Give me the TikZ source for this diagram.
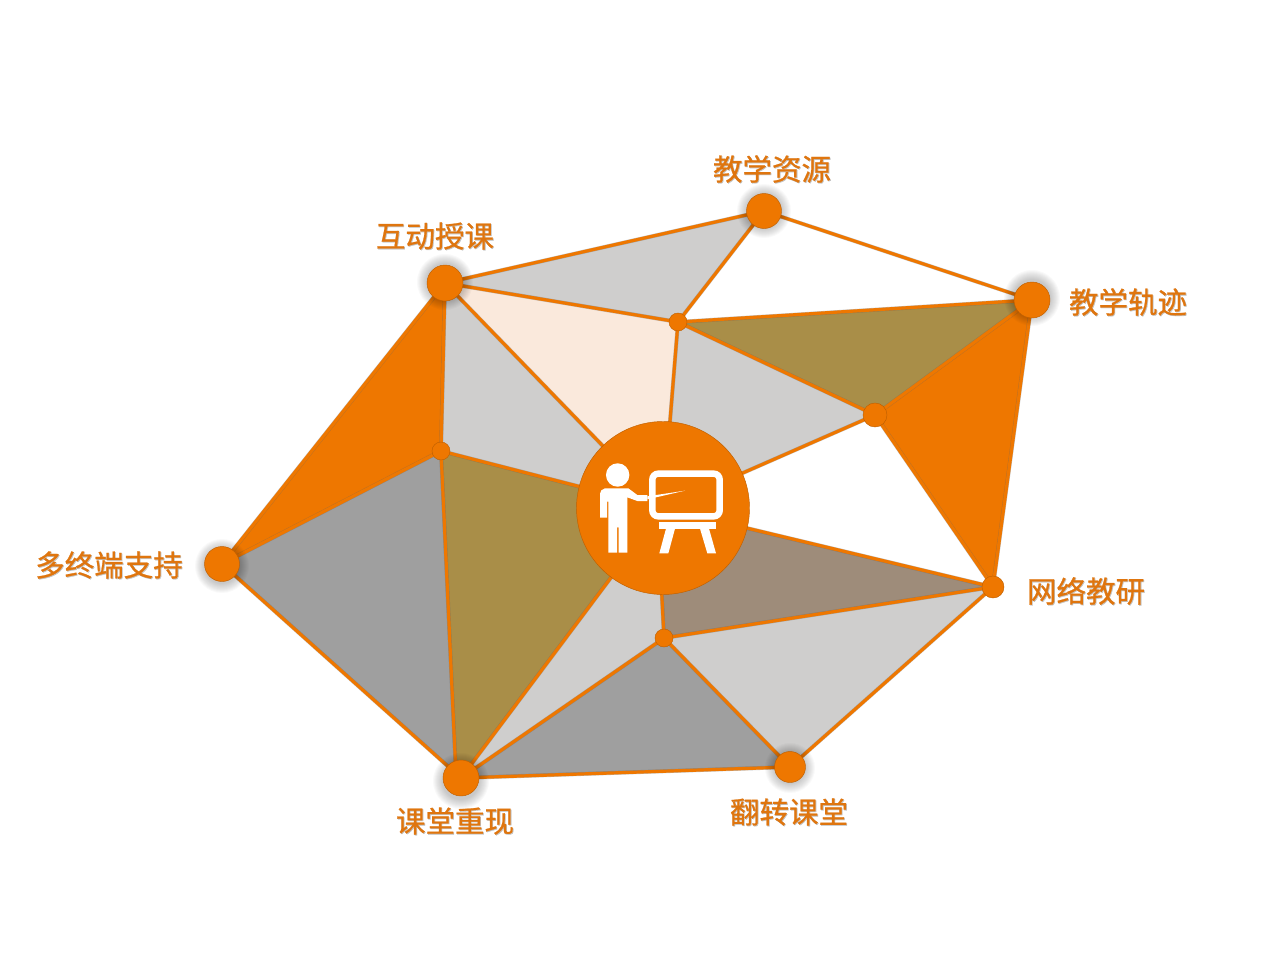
\documentclass[tikz,border=0pt]{standalone}
\usepackage{fontspec}
\newfontfamily\cjk[FakeBold=0.8]{Noto Sans CJK SC}
\definecolor{org}{HTML}{EE7700}
\definecolor{lab}{HTML}{DF750E}
\definecolor{lgrey}{HTML}{CFCECD}
\definecolor{dgrey}{HTML}{9F9F9F}
\definecolor{olive}{HTML}{A98E48}
\definecolor{peach}{HTML}{FAE9DC}
\definecolor{brownish}{HTML}{9E8C7A}
\tikzset{
  hub/.style={circle,fill=org,draw=black!20!org,line width=.45pt,inner sep=0pt,minimum size=#1},
  edgeline/.style={draw=org,line width=3.2pt,line join=round},
  edgeunder/.style={draw=black!60,line width=4pt,opacity=.4,line join=round},
  lbl/.style={font=\cjk\fontsize{29.5}{31}\selectfont,text=lab,inner sep=0pt},
  lblsh/.style={font=\cjk\fontsize{29.5}{31}\selectfont,text=black!45,opacity=.45,inner sep=0pt},
  icon/.style={fill=white,draw=none}
}
\newcommand{\softshade}[3]{%
  \foreach \k in {1,...,10}{\fill[black,opacity=.024] (#1,#2) circle[radius=#3+11-\k];}}
\newcommand{\lab}[3]{%
  \node[lblsh] at (#1+.8,#2+.8) {#3};
  \node[lbl] at (#1,#2) {#3};}
\begin{document}
\begin{tikzpicture}[x=1pt,y=-1pt]
\useasboundingbox (0,0) rectangle (1269,958);
\coordinate (A) at (445,283);
\coordinate (B) at (764,211);
\coordinate (C) at (1032,300);
\coordinate (D) at (993,587);
\coordinate (E) at (790,767);
\coordinate (F) at (461,778);
\coordinate (Fc) at (456,775);
\coordinate (G) at (222,564);
\coordinate (a) at (678,322);
\coordinate (b) at (875,415);
\coordinate (c) at (441,451);
\coordinate (d) at (664,638);
\coordinate (O) at (663,508);
\coordinate (Od) at (659,540);
% faces
\fill[lgrey] (A)--(B)--(a)--cycle;
\fill[olive] (a)--(C)--(b)--cycle;
\fill[org] (C)--(b)--(D)--cycle;
\fill[lgrey] (a)--(b)--(O)--cycle;
\fill[peach] (A)--(a)--(O)--cycle;
\fill[lgrey] (A)--(c)--(O)--cycle;
\fill[org] (A)--(c)--(G)--cycle;
\fill[dgrey] (G)--(c)--(Fc)--(F)--cycle;
\fill[olive] (c)--(Fc)--(F)--(O)--cycle;
\fill[lgrey] (F)--(d)--(Od)--(O)--cycle;
\fill[brownish] (O)--(Od)--(d)--(D)--cycle;
\fill[lgrey] (d)--(D)--(E)--cycle;
\fill[dgrey] (F)--(d)--(E)--cycle;
% edges
\foreach \st in {edgeunder,edgeline}{
  \path[\st] (A)--(B) (B)--(C) (C)--(D) (D)--(E) (E)--(F) (F)--(G) (G)--(A);
  \path[\st] (A)--(a) (B)--(a) (C)--(a) (a)--(b) (C)--(b) (b)--(D) (a)--(O) (b)--(O);
  \path[\st] (A)--(c) (A)--(O) (c)--(G) (c)--(Fc) (c)--(O) (F)--(O);
  \path[\st] (F)--(d) (d)--(E) (d)--(D) (d)--(Od) (O)--(D);
}
% shadows
\softshade{445}{282}{18}
\softshade{764}{211}{17}
\softshade{1032}{298}{18}
\softshade{790}{768}{15}
\softshade{461}{781}{18}
\softshade{222}{566}{17}
% hubs
\node[hub=36pt] (nA) at (A) {};
\node[hub=35pt] (nB) at (B) {};
\node[hub=36pt] (nC) at (C) {};
\node[hub=22pt] (nD) at (D) {};
\node[hub=31pt] (nE) at (E) {};
\node[hub=36pt] (nF) at (F) {};
\node[hub=35pt] (nG) at (G) {};
\node[hub=18pt] (na) at (a) {};
\node[hub=24pt] (nb) at (b) {};
\node[hub=18pt] (nc) at (c) {};
\node[hub=18pt] (nd) at (d) {};
\node[hub=173pt] (nO) at (O) {};
% icon
\begin{scope}[shift={(560,400)},x=1pt/3,y=-1pt/3]
  \fill[icon] (173,225) circle[radius=11.7pt];
  \fill[icon] (120,353)--(120,281)--(124,271)--(135,265)--(205,265)--(232,285)--(262,285)--(262,303)--(232,303)--(202,292)--(202,458)--(176,458)--(176,382)--(171,382)--(171,458)--(145,458)--(145,305)--(141,305)--(141,353)--cycle;
  \fill[icon] (262,289)--(375,272)--(262,298)--cycle;
  \draw[white,line width=6.5pt,rounded corners=6pt] (277,221) rectangle (479,349);
  \fill[icon] (296,365) rectangle (468,386);
  \fill[icon] (318,386)--(345,386)--(325,460)--(298,460)--cycle;
  \fill[icon] (420,386)--(447,386)--(468,460)--(442,460)--cycle;
\end{scope}
% labels
\lab{435}{236}{互动授课}
\lab{772}{169}{教学资源}
\lab{1128}{302}{教学轨迹}
\lab{1086}{591}{网络教研}
\lab{789}{812}{翻转课堂}
\lab{455}{821}{课堂重现}
\lab{109}{565}{多终端支持}
\end{tikzpicture}
\end{document}
